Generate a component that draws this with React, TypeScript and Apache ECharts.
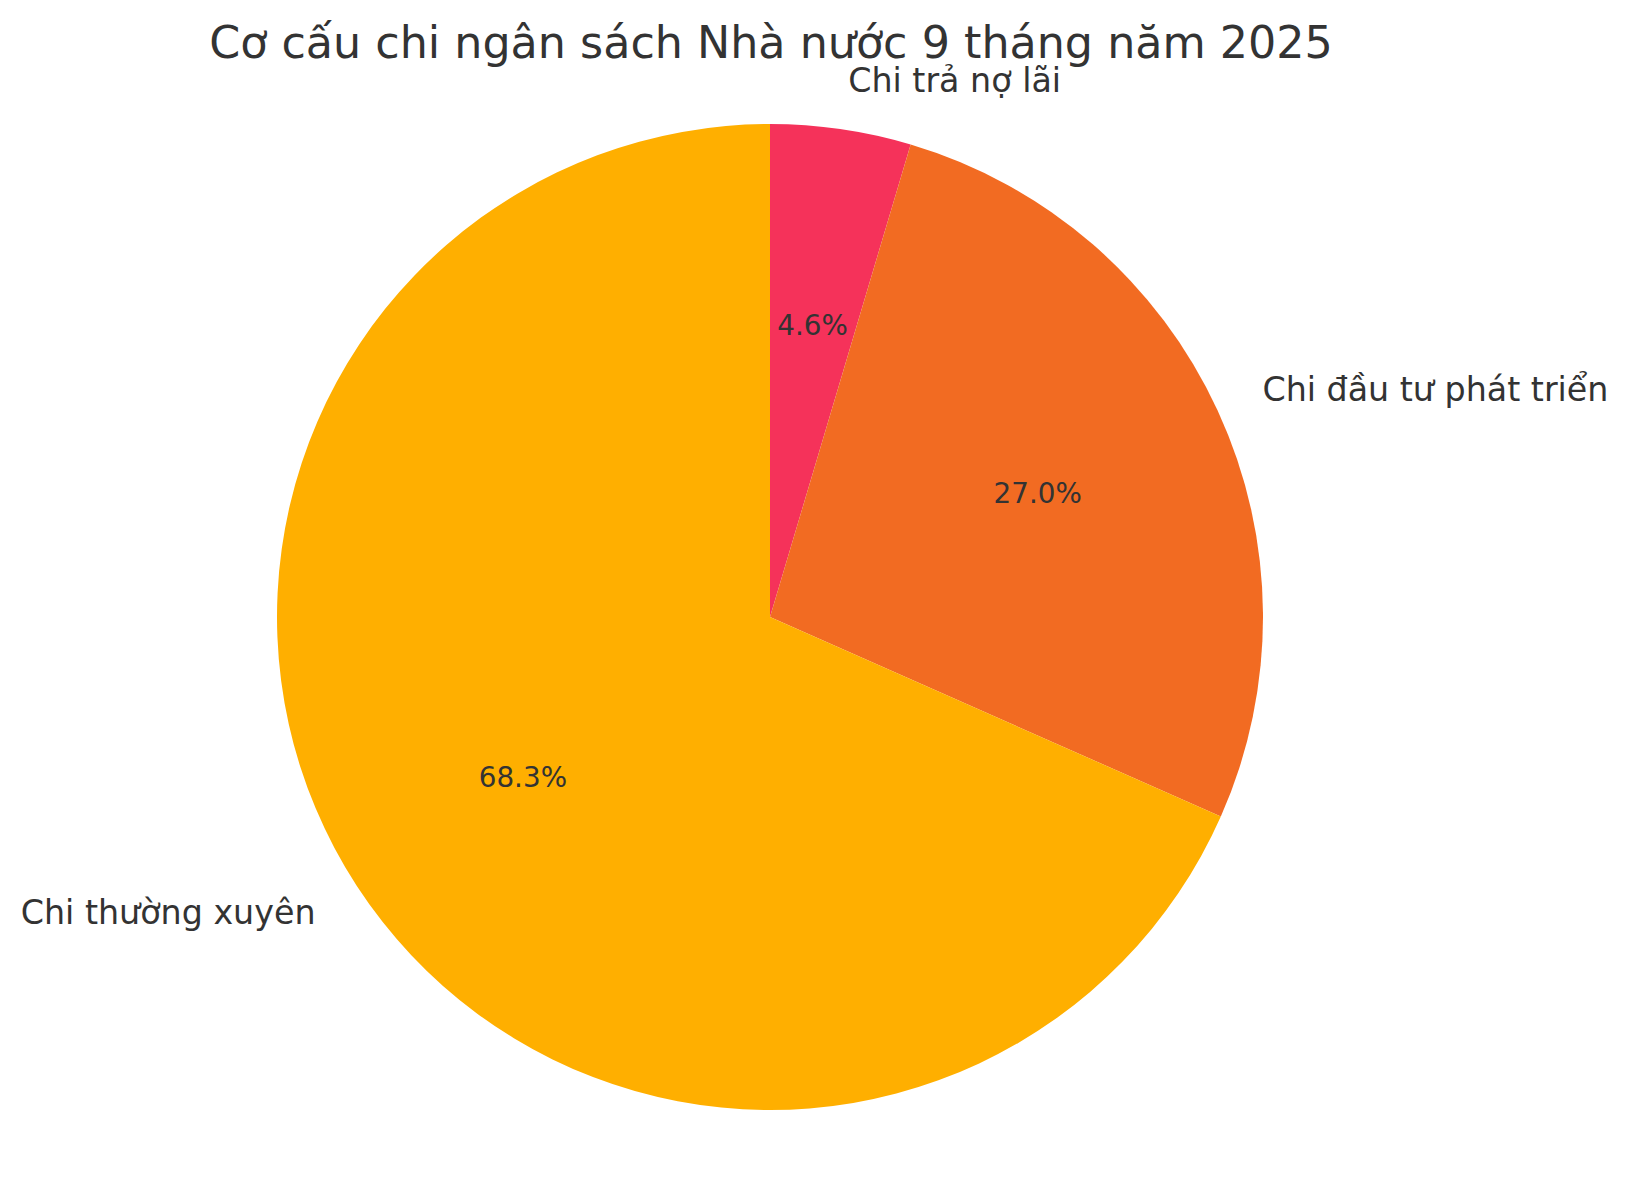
import React, { useEffect, useRef } from "react";
import * as echarts from "echarts";

const TITLE = "Cơ cấu chi ngân sách Nhà nước 9 tháng năm 2025";
const categories = ["Chi trả nợ lãi", "Chi đầu tư phát triển", "Chi thường xuyên"];
const values = [4.6, 27.0, 68.3];
const sliceColors = ["#F5325A", "#F26B22", "#FFAF00"];

const FONT = "'DejaVu Sans', 'Noto Sans', sans-serif";
const TEXT_COLOR = "#333333";
const CENTER: [number, number] = [770, 617];
const R = 493;

export default function App() {
  const ref = useRef<HTMLDivElement>(null);

  useEffect(() => {
    if (!ref.current) return;
    const chart = echarts.init(ref.current, undefined, { renderer: "svg" });

    const pieData = categories.map((name, i) => ({
      name,
      value: values[i],
      itemStyle: { color: sliceColors[i] },
    }));
    const ghostData = categories.map((name, i) => ({
      name,
      value: values[i],
    }));

    chart.setOption({
      animation: false,
      backgroundColor: "#ffffff",
      graphic: [
        {
          type: "text",
          x: 771,
          y: 42,
          style: {
            text: TITLE,
            fontSize: 44.4,
            fontFamily: FONT,
            fill: TEXT_COLOR,
            align: "center",
            verticalAlign: "middle",
          },
        },
      ],
      series: [
        {
          type: "pie",
          center: CENTER,
          radius: R,
          startAngle: 90,
          clockwise: true,
          avoidLabelOverlap: false,
          silent: true,
          emphasis: { disabled: true },
          itemStyle: { borderWidth: 0 },
          label: {
            show: true,
            position: "outside",
            formatter: "{b}",
            fontSize: 33.3,
            fontFamily: FONT,
            color: TEXT_COLOR,
            distanceToLabelLine: 0,
            padding: [0, 0, 5, 0],
          },
          labelLine: { show: false, length: R * 0.1, length2: 0 },
          data: pieData,
        },
        {
          type: "pie",
          center: CENTER,
          radius: [0, R * 1.184],
          startAngle: 90,
          clockwise: true,
          avoidLabelOverlap: false,
          silent: true,
          z: 5,
          emphasis: { disabled: true },
          itemStyle: { color: "transparent", borderWidth: 0 },
          label: {
            show: true,
            position: "inside",
            formatter: (p: any) => `${Number(p.value).toFixed(1)}%`,
            fontSize: 27.8,
            fontFamily: FONT,
            color: TEXT_COLOR,
            padding: [0, 0, 4, 0],
          },
          labelLine: { show: false },
          data: ghostData,
        },
      ],
    });

    return () => chart.dispose();
  }, []);

  return (
    <div
      ref={ref}
      style={{ position: "absolute", left: 0, top: 0, width: 1630, height: 1180 }}
    />
  );
}
